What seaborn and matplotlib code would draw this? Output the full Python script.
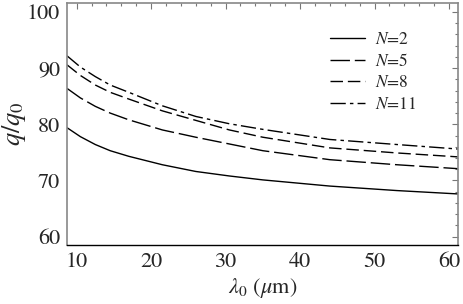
import pandas as pd
import matplotlib
matplotlib.use("Agg")
import matplotlib.pyplot as plt
from matplotlib.ticker import MultipleLocator
import seaborn as sns

# valores
lambda0 = [8.7, 10.5, 12.5, 14.5, 17.0, 21.5, 26.0, 30.5, 35.0, 44.0, 53.0, 61.2]
q_n2 = [79.4, 77.8, 76.4, 75.3, 74.3, 72.8, 71.6, 70.8, 70.1, 69.0, 68.2, 67.6]
q_n5 = [86.4, 84.7, 83.2, 82.0, 80.8, 79.0, 77.7, 76.5, 75.3, 73.7, 72.8, 72.1]
q_n8 = [90.6, 88.7, 87.0, 85.7, 84.5, 82.4, 80.7, 79.0, 77.7, 75.8, 74.9, 74.2]
q_n11 = [92.2, 90.2, 88.5, 87.0, 85.7, 83.3, 81.4, 80.1, 79.1, 77.3, 76.4, 75.6]

labels = [r"$N$=2", r"$N$=5", r"$N$=8", r"$N$=11"]
series = [q_n2, q_n5, q_n8, q_n11]
estilos = ["-", (0, (14, 3.5)), (0, (9, 3.5)), (0, (11, 3, 2.5, 3))]

sns.set_style("white")
plt.rcParams["font.family"] = ["STIXGeneral", "DejaVu Serif"]
plt.rcParams["mathtext.fontset"] = "stix"

fig = plt.figure(figsize=(4.63, 3.04), dpi=100)
ax = fig.add_axes([0.1447, 0.194, 0.8443, 0.796])

for lab, vals, ls in zip(labels, series, estilos):
    df = pd.DataFrame({"lambda0": lambda0, "q": vals})
    sns.lineplot(data=df, x="lambda0", y="q", color="black", lw=1.0,
                 linestyle=ls, label=lab, ax=ax)

ax.set_xlim(8.7, 61.2)
ax.set_ylim(58.5, 101.6)
ax.xaxis.set_major_locator(MultipleLocator(10))
ax.xaxis.set_minor_locator(MultipleLocator(2))
ax.yaxis.set_major_locator(MultipleLocator(10))
ax.yaxis.set_minor_locator(MultipleLocator(2))
ax.tick_params(which="both", direction="in", top=True, right=True,
               color="#777777", labelsize=16, pad=5)
ax.tick_params(which="major", length=4, width=0.8)
ax.tick_params(which="minor", length=2.5, width=0.8)

for lado in ["left", "top", "right"]:
    ax.spines[lado].set_color("#888888")
    ax.spines[lado].set_linewidth(1.2)
ax.spines["bottom"].set_color("black")
ax.spines["bottom"].set_linewidth(1.0)

ax.set_xlabel(r"$\lambda_0$ ($\mu$m)", fontsize=16, labelpad=3)
ax.set_ylabel(r"$q/q_0$", fontsize=19)
ax.yaxis.set_label_coords(-0.1, 0.5)

ax.legend(loc="upper left", bbox_to_anchor=(0.655, 0.91), frameon=False,
          fontsize=12.5, handlelength=2.0, handletextpad=0.6,
          labelspacing=0.3, borderaxespad=0)

plt.savefig("out.png", dpi=100)
